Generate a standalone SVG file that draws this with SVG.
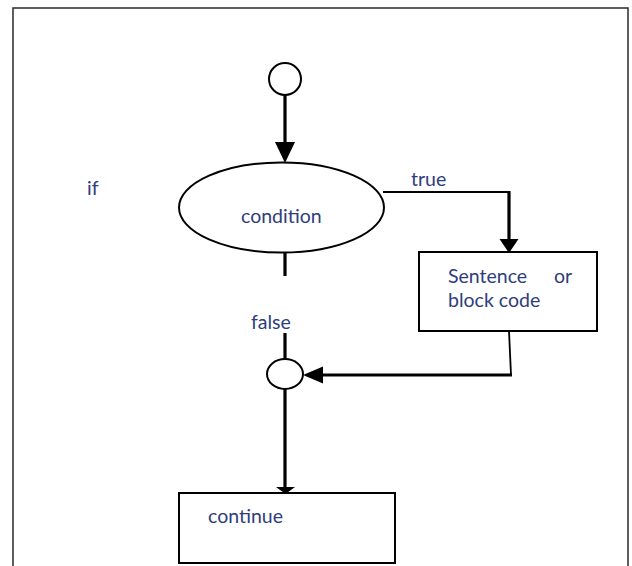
<svg xmlns="http://www.w3.org/2000/svg" width="632" height="566" viewBox="0 0 632 566">
  <style>
    .frame { fill: none; stroke: #2a2a2a; stroke-width: 1.5; }
    .shape { fill: #fff; stroke: #000; stroke-width: 2; }
    .thin { fill: none; stroke: #000; stroke-width: 1.8; }
    .thick { fill: none; stroke: #000; stroke-width: 3.2; }
    .head { fill: #000; stroke: none; }
    .lbl { font-family: Lato, "Liberation Sans", sans-serif; font-size: 19.5px; fill: #2f3d7c; }
  </style>
  <rect width="632" height="566" fill="#fff"/>
  <path class="frame" d="M13,570 V8 H628 V570"/>

  <g id="connectors">
    <!-- start -> condition -->
    <line class="thick" x1="285" y1="94" x2="285" y2="145"/>
    <polygon class="head" points="275,142 295,142 285,163"/>
    <!-- condition -> statement (true) -->
    <line class="thin" x1="383" y1="192" x2="510" y2="192"/>
    <line class="thick" x1="509" y1="191" x2="509" y2="242"/>
    <polygon class="head" points="499.5,239 518.5,239 509,253"/>
    <!-- condition -> join (false) -->
    <line class="thick" x1="285" y1="252" x2="285" y2="276"/>
    <line class="thick" x1="285" y1="333" x2="285" y2="359"/>
    <!-- statement -> join -->
    <polyline class="thin" points="509,331 511,375"/>
    <line class="thick" x1="512" y1="375" x2="320" y2="375"/>
    <polygon class="head" points="303,375 323,366.5 323,383.5"/>
    <!-- join -> continue -->
    <line class="thick" x1="285" y1="389" x2="285" y2="490"/>
    <polygon class="head" points="276,487 295,487 285.5,494"/>
  </g>

  <g id="start">
    <ellipse class="shape" cx="285" cy="79" rx="16" ry="16"/>
  </g>
  <g id="condition">
    <ellipse class="shape" cx="281.5" cy="207.5" rx="102.5" ry="45"/>
    <text class="lbl" x="241" y="223">condition</text>
  </g>
  <g id="if-label">
    <text class="lbl" x="87" y="195">if</text>
  </g>
  <g id="true-label">
    <text class="lbl" x="411" y="186">true</text>
  </g>
  <g id="false-label">
    <text class="lbl" x="251" y="329">false</text>
  </g>
  <g id="statement">
    <rect class="shape" x="419" y="252" width="178" height="79"/>
    <text class="lbl" x="448" y="283">Sentence</text>
    <text class="lbl" x="554" y="283">or</text>
    <text class="lbl" x="448" y="307">block code</text>
  </g>
  <g id="join">
    <ellipse class="shape" cx="285" cy="374" rx="18" ry="15"/>
  </g>
  <g id="continue">
    <rect class="shape" x="179" y="493" width="216" height="70"/>
    <text class="lbl" x="208" y="523">continue</text>
  </g>
</svg>
